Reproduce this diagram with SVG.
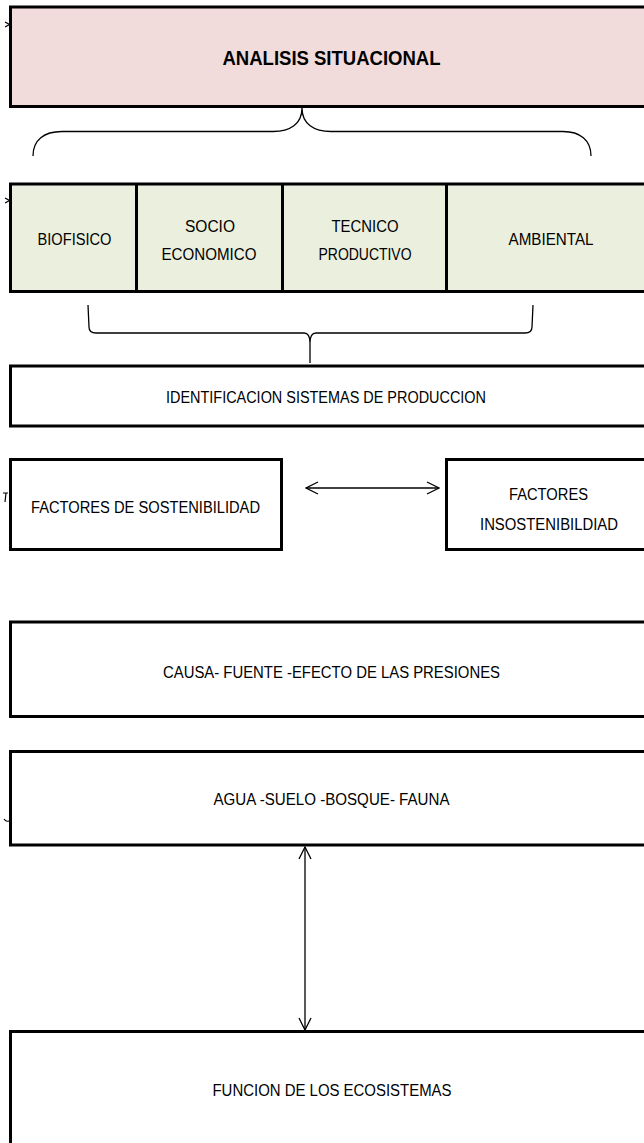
<svg xmlns="http://www.w3.org/2000/svg" width="644" height="1143" viewBox="0 0 644 1143">
<defs>
<style>
.box{stroke:#000;stroke-width:3;fill:#fff}
.pink{fill:#F2DCDB}
.green{fill:#EBEFDE}
.div{stroke:#000;stroke-width:3}
.t{font-family:"Liberation Sans",Arial,sans-serif;font-size:16px;fill:#000;text-anchor:middle}
.tb{font-family:"Liberation Sans",Arial,sans-serif;font-size:20px;font-weight:bold;fill:#000;text-anchor:middle}
.ln{fill:none;stroke:#000;stroke-width:1.3}
.mk{fill:none;stroke:#000;stroke-width:1.2}
</style>
<marker id="open" viewBox="0 0 14 14" refX="13" refY="7" markerWidth="14" markerHeight="14" markerUnits="userSpaceOnUse" orient="auto-start-reverse">
<path d="M1,1 L13,7 L1,13" fill="none" stroke="#000" stroke-width="1.3"/>
</marker>
</defs>
<rect width="644" height="1143" fill="#fff"/>

<g id="analisis">
<rect class="box pink" x="10.5" y="7" width="660" height="99.5"/>
<text class="tb" x="331.5" y="65" textLength="218" lengthAdjust="spacingAndGlyphs">ANALISIS SITUACIONAL</text>
</g>

<g id="dimensiones">
<rect class="box green" x="10.5" y="184" width="660" height="107.5"/>
<line class="div" x1="136.5" y1="184" x2="136.5" y2="291.5"/>
<line class="div" x1="282.5" y1="184" x2="282.5" y2="291.5"/>
<line class="div" x1="446.5" y1="184" x2="446.5" y2="291.5"/>
</g>
<g id="biofisico">
<text class="t" x="74.5" y="245" textLength="74" lengthAdjust="spacingAndGlyphs">BIOFISICO</text>
</g>
<g id="socioeconomico">
<text class="t" x="210" y="231.5" textLength="50" lengthAdjust="spacingAndGlyphs">SOCIO</text>
<text class="t" x="209" y="260" textLength="95" lengthAdjust="spacingAndGlyphs">ECONOMICO</text>
</g>
<g id="tecnico">
<text class="t" x="365" y="231.5" textLength="67" lengthAdjust="spacingAndGlyphs">TECNICO</text>
<text class="t" x="365" y="260" textLength="93" lengthAdjust="spacingAndGlyphs">PRODUCTIVO</text>
</g>
<g id="ambiental">
<text class="t" x="551" y="245" textLength="85" lengthAdjust="spacingAndGlyphs">AMBIENTAL</text>
</g>

<g id="identificacion">
<rect class="box" x="10.5" y="366" width="660" height="60"/>
<text class="t" x="326" y="403" textLength="320" lengthAdjust="spacingAndGlyphs">IDENTIFICACION SISTEMAS DE PRODUCCION</text>
</g>

<g id="sostenibilidad">
<rect class="box" x="10.5" y="459.5" width="271" height="90"/>
<text class="t" x="145.5" y="513" textLength="229" lengthAdjust="spacingAndGlyphs">FACTORES DE SOSTENIBILIDAD</text>
</g>

<g id="insostenibilidad">
<rect class="box" x="446.5" y="459.5" width="230" height="90"/>
<text class="t" x="548.5" y="500" textLength="79" lengthAdjust="spacingAndGlyphs">FACTORES</text>
<text class="t" x="549" y="530" textLength="138" lengthAdjust="spacingAndGlyphs">INSOSTENIBILDIAD</text>
</g>

<g id="causa">
<rect class="box" x="10.5" y="622" width="660" height="94.5"/>
<text class="t" x="331.5" y="678" textLength="337" lengthAdjust="spacingAndGlyphs">CAUSA- FUENTE -EFECTO DE LAS PRESIONES</text>
</g>

<g id="agua">
<rect class="box" x="10.5" y="751.5" width="660" height="93.5"/>
<text class="t" x="331.5" y="805" textLength="236" lengthAdjust="spacingAndGlyphs">AGUA -SUELO -BOSQUE- FAUNA</text>
</g>

<g id="funcion">
<rect class="box" x="10.5" y="1031.5" width="660" height="140"/>
<text class="t" x="332" y="1096" textLength="239" lengthAdjust="spacingAndGlyphs">FUNCION DE LOS ECOSISTEMAS</text>
</g>

<g id="connectors">
<path class="ln" d="M33,156 C33,140 44,131.5 62,131.5 L273,131.5 C290,131.5 302,124 302,108 C302,124 314,131.5 331,131.5 L563,131.5 C580,131.5 591,140 591,156"/>
<path class="ln" d="M88,305 L89,327 Q89,333 96,333 L304,333 Q310,333 310,343 L310,363 M533,305 L532,327 Q532,333 525,333 L316,333 Q310,333 310,343"/>
<line class="ln" x1="306" y1="488" x2="439" y2="488" marker-start="url(#open)" marker-end="url(#open)"/>
<line class="ln" x1="305" y1="847" x2="305" y2="1030" marker-start="url(#open)" marker-end="url(#open)"/>
<path class="mk" d="M5,22 L9.5,24.5 L5,27"/>
<path class="mk" d="M5,198 L9.5,200.5 L5,203"/>
<path class="mk" d="M3,493 L8,493 M6,493 L5,502"/>
<path class="mk" d="M4,819 Q6,822 9,821"/>
</g>
</svg>
